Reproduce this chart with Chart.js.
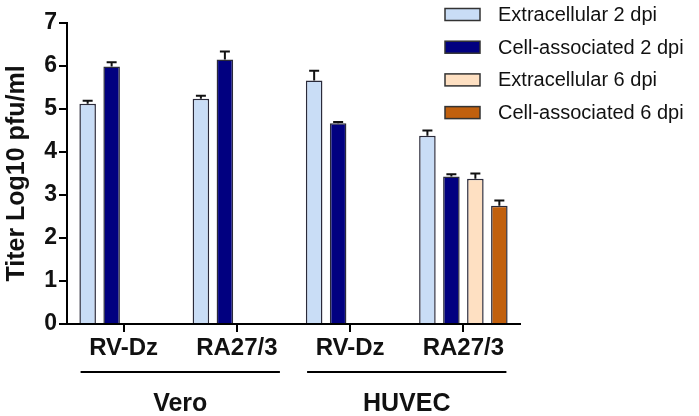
<!DOCTYPE html>
<html lang="en">
<head>
<meta charset="UTF-8">
<title>Titer Log10 pfu/ml</title>
<style>
    html, body {
        margin: 0;
        padding: 0;
        background: #ffffff;
    }
    #titerChart {
        display: block;
    }
</style>
<script src="https://cdn.jsdelivr.net/npm/chart.js"></script>
</head>
<body>
<canvas id="titerChart" width="699" height="416"></canvas>

<script>
// categories along the x axis and the cell line each belongs to
var categories = ['RV-Dz', 'RA27/3', 'RV-Dz', 'RA27/3'];
var cellLines = ['Vero', 'Vero', 'HUVEC', 'HUVEC'];

// series values (mean) and error (upper only)
var extracellular2 = [5.12, 5.24, 5.66, 4.38];
var extracellular2Err = [0.07, 0.07, 0.23, 0.12];
var cellAssoc2 = [5.99, 6.15, 4.67, 3.43];
var cellAssoc2Err = [0.10, 0.19, 0.03, 0.05];
var extracellular6 = [null, null, null, 3.38];
var extracellular6Err = [null, null, null, 0.12];
var cellAssoc6 = [null, null, null, 2.75];
var cellAssoc6Err = [null, null, null, 0.12];

var yTicks = [0, 1, 2, 3, 4, 5, 6, 7];

var FONT = '"Liberation Sans", Arial, sans-serif';

// error bars on top of each bar
var errorBars = {
    id: 'errorBars',
    afterDatasetsDraw: function(chart) {
        var ctx = chart.ctx;
        var y = chart.scales.y;
        ctx.save();
        ctx.strokeStyle = '#111';
        ctx.lineWidth = 2;
        chart.data.datasets.forEach(function(ds, i) {
            var meta = chart.getDatasetMeta(i);
            meta.data.forEach(function(bar, j) {
                var v = ds.data[j];
                if (v == null) return;
                var top = y.getPixelForValue(v + ds.errors[j]);
                ctx.beginPath();
                ctx.moveTo(bar.x, bar.y);
                ctx.lineTo(bar.x, top);
                ctx.moveTo(bar.x - 5, top);
                ctx.lineTo(bar.x + 5, top);
                ctx.stroke();
            });
        });
        ctx.restore();
    }
};

// cell line brackets under the category labels
var groupLabels = {
    id: 'groupLabels',
    afterDraw: function(chart) {
        var ctx = chart.ctx;
        var x = chart.scales.x;
        var half = (x.getPixelForValue(1) - x.getPixelForValue(0)) * 0.38;
        var seen = [];
        ctx.save();
        cellLines.forEach(function(name) {
            if (seen.indexOf(name) >= 0) return;
            seen.push(name);
            var first = cellLines.indexOf(name);
            var last = cellLines.lastIndexOf(name);
            var x1 = x.getPixelForValue(first) - half;
            var x2 = x.getPixelForValue(last) + half;
            ctx.strokeStyle = '#000';
            ctx.lineWidth = 2;
            ctx.beginPath();
            ctx.moveTo(x1, 372);
            ctx.lineTo(x2, 372);
            ctx.stroke();
            ctx.fillStyle = '#111';
            ctx.font = 'bold 25px ' + FONT;
            ctx.textAlign = 'center';
            ctx.textBaseline = 'middle';
            ctx.fillText(name, (x1 + x2) / 2, 404);
        });
        ctx.restore();
    }
};

// legend drawn inside the top right corner
var boxLegend = {
    id: 'boxLegend',
    afterDraw: function(chart) {
        var ctx = chart.ctx;
        ctx.save();
        chart.data.datasets.forEach(function(ds, i) {
            var cy = 14.5 + i * 32.7;
            ctx.fillStyle = ds.backgroundColor;
            ctx.fillRect(445, cy - 6, 35, 12);
            ctx.strokeStyle = '#333';
            ctx.lineWidth = 1.5;
            ctx.strokeRect(445, cy - 6, 35, 12);
            ctx.fillStyle = '#111';
            ctx.font = '20px ' + FONT;
            ctx.textAlign = 'left';
            ctx.textBaseline = 'middle';
            ctx.fillText(ds.label, 498, cy + 1);
        });
        ctx.restore();
    }
};

function makeSet(label, data, errors, color) {
    return {
        label: label,
        data: data,
        errors: errors,
        backgroundColor: color,
        borderColor: '#2a2a3a',
        borderWidth: 1.5,
        categoryPercentage: 0.847,
        barPercentage: 0.69
    };
}

var ctx = document.getElementById('titerChart').getContext('2d');

new Chart(ctx, {
    type: 'bar',
    data: {
        labels: categories,
        datasets: [
            makeSet('Extracellular 2 dpi', extracellular2, extracellular2Err, '#c9ddf6'),
            makeSet('Cell-associated 2 dpi', cellAssoc2, cellAssoc2Err, '#010080'),
            makeSet('Extracellular 6 dpi', extracellular6, extracellular6Err, '#fee0c2'),
            makeSet('Cell-associated 6 dpi', cellAssoc6, cellAssoc6Err, '#c1600e')
        ]
    },
    options: {
        responsive: false,
        animation: false,
        layout: {
            padding: { left: 0, top: 23, right: 179, bottom: 0 }
        },
        plugins: {
            legend: { display: false },
            tooltip: { enabled: false }
        },
        scales: {
            x: {
                afterFit: function(s) { s.height = 92; },
                grid: {
                    offset: false,
                    drawOnChartArea: false,
                    drawTicks: true,
                    tickLength: 8,
                    color: '#000',
                    lineWidth: 2
                },
                border: { display: true, color: '#000', width: 2 },
                ticks: {
                    color: '#111',
                    padding: 2,
                    maxRotation: 0,
                    font: { family: FONT, size: 24, weight: 'bold' }
                }
            },
            y: {
                min: 0,
                max: 7,
                afterFit: function(s) { s.width = 67; },
                afterBuildTicks: function(s) {
                    s.ticks = yTicks.map(function(v) { return { value: v }; });
                },
                grid: {
                    drawOnChartArea: false,
                    drawTicks: true,
                    tickLength: 8,
                    color: '#000',
                    lineWidth: 2
                },
                border: { display: true, color: '#000', width: 2 },
                ticks: {
                    color: '#111',
                    padding: 2,
                    font: { family: FONT, size: 23, weight: 'bold' }
                },
                title: {
                    display: true,
                    text: 'Titer Log10 pfu/ml',
                    color: '#111',
                    padding: { top: 2, bottom: 0 },
                    font: { family: FONT, size: 25, weight: 'bold' }
                }
            }
        }
    },
    plugins: [errorBars, groupLabels, boxLegend]
});
</script>
</body>
</html>
